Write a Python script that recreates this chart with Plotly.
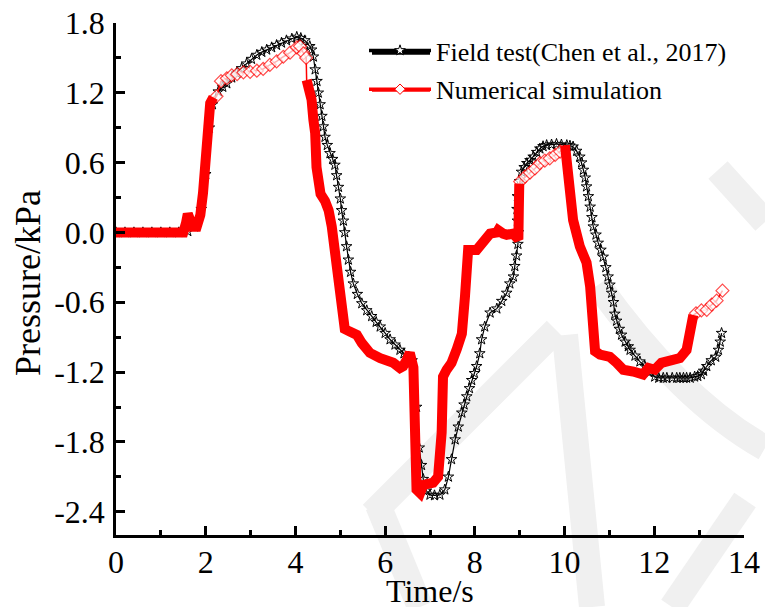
import plotly.graph_objects as go

# ---------------- data ----------------
field_t = [0.0, 0.2, 0.4, 0.6, 0.8, 1.0, 1.2, 1.4, 1.6, 1.75, 1.9, 2.0, 2.08, 2.15,
           2.28, 2.38, 2.47, 2.58, 2.69, 2.8, 2.91, 3.02, 3.14, 3.25, 3.36, 3.47, 3.58,
           3.69, 3.8, 3.92, 4.03, 4.12, 4.21, 4.32, 4.36, 4.4, 4.44, 4.48, 4.51, 4.55,
           4.59, 4.62, 4.66, 4.71, 4.77, 4.83, 4.88, 4.92, 4.96, 5.0, 5.03, 5.07, 5.1,
           5.14, 5.18, 5.23, 5.29, 5.38, 5.48, 5.59, 5.7, 5.8, 5.89, 6.0, 6.11, 6.22,
           6.33, 6.42, 6.52, 6.6, 6.7, 6.76, 6.81, 6.85, 6.92, 7.0, 7.1, 7.22, 7.33,
           7.41, 7.48, 7.56, 7.63, 7.71, 7.76, 7.82, 7.88, 7.93, 7.99, 8.04, 8.11, 8.15,
           8.22, 8.34, 8.49, 8.6, 8.71, 8.78, 8.86, 8.89, 8.93, 8.96, 8.97, 8.95, 8.94,
           8.95, 9.0, 9.04, 9.1, 9.16, 9.23, 9.3, 9.38, 9.45, 9.52, 9.6, 9.71, 9.82,
           9.93, 10.05, 10.12, 10.19, 10.27, 10.34, 10.38, 10.42, 10.46, 10.49, 10.53,
           10.57, 10.61, 10.64, 10.7, 10.75, 10.81, 10.86, 10.92, 10.97, 11.01, 11.05,
           11.09, 11.12, 11.16, 11.22, 11.27, 11.35, 11.42, 11.46, 11.57, 11.68, 11.79,
           11.9, 12.01, 12.1, 12.2, 12.28, 12.4, 12.5, 12.57, 12.65, 12.72, 12.8, 12.9,
           12.97, 13.05, 13.1, 13.17, 13.27, 13.37, 13.43, 13.47, 13.5]
field_v = [0.0, 0.0, 0.0, 0.0, 0.0, 0.0, 0.0, 0.0, 0.01, 0.05, 0.2, 0.5, 0.9, 1.1,
           1.21, 1.25, 1.28, 1.33, 1.37, 1.41, 1.45, 1.49, 1.525, 1.55, 1.57, 1.59, 1.61,
           1.63, 1.65, 1.665, 1.68, 1.67, 1.65, 1.6, 1.57, 1.51, 1.4, 1.3, 1.2, 1.1,
           1.0, 0.91, 0.82, 0.75, 0.68, 0.63, 0.58, 0.49, 0.39, 0.29, 0.19, 0.1, 0.0,
           -0.12, -0.235, -0.34, -0.44, -0.53, -0.61, -0.67, -0.72, -0.77, -0.81, -0.865,
           -0.92, -0.965, -1.01, -1.04, -1.07, -1.1, -1.5, -1.85, -2.0, -2.12, -2.22,
           -2.255, -2.26, -2.255, -2.21, -2.1, -1.95, -1.78, -1.67, -1.55, -1.48, -1.41,
           -1.34, -1.27, -1.21, -1.15, -1.04, -0.92, -0.81, -0.69, -0.655, -0.59, -0.52,
           -0.44, -0.38, -0.29, -0.2, -0.1, 0.0, 0.1, 0.2, 0.31, 0.44, 0.52, 0.56, 0.595,
           0.62, 0.65, 0.69, 0.72, 0.74, 0.75, 0.755, 0.76, 0.755, 0.75, 0.745, 0.737,
           0.7, 0.65, 0.6, 0.537, 0.47, 0.394, 0.31, 0.22, 0.13, 0.05, -0.02, -0.09,
           -0.15, -0.21, -0.3, -0.38, -0.45, -0.52, -0.6, -0.7, -0.76, -0.83, -0.88,
           -0.94, -0.98, -1.01, -1.06, -1.11, -1.15, -1.2, -1.24, -1.25, -1.25, -1.25,
           -1.25, -1.25, -1.25, -1.25, -1.25, -1.25, -1.24, -1.235, -1.22, -1.19, -1.15,
           -1.1, -1.07, -1.01, -0.94, -0.865]

sim_t = [0.0, 1.5, 1.56, 1.6, 1.64, 1.68, 1.8, 1.88, 1.94, 1.99, 2.03, 2.1, 2.17,
         2.24, 2.34, 2.47, 2.58, 2.7, 2.84, 2.99, 3.14, 3.28, 3.43, 3.58, 3.73, 3.88,
         4.03, 4.1, 4.18, 4.24,
         4.25, 4.36, 4.4, 4.44, 4.47, 4.51, 4.56, 4.66, 4.74, 4.81, 4.88, 4.96, 5.03,
         5.1, 5.2, 5.37, 5.48, 5.57, 5.66, 5.89, 6.18, 6.33, 6.4, 6.48, 6.55, 6.63,
         6.67, 6.7, 6.78, 6.85, 7.07, 7.18, 7.26, 7.29, 7.37, 7.48, 7.6, 7.71, 7.78,
         7.82, 7.85, 8.04, 8.18, 8.34, 8.49, 8.52, 8.63, 8.71, 8.85, 8.93, 8.97, 8.98,
         8.99,
         9.01, 9.12, 9.23, 9.34, 9.45, 9.56, 9.67, 9.79, 9.9,
         10.01, 10.08, 10.19, 10.34, 10.49, 10.57, 10.64, 10.68, 10.79, 11.01, 11.16,
         11.31, 11.53, 11.75, 11.87, 12.01, 12.16, 12.35, 12.57, 12.72, 12.8, 12.87,
         12.93, 13.05, 13.17, 13.28, 13.39, 13.52]
sim_v = [0.0, 0.0, 0.08, 0.16, 0.12, 0.05, 0.05, 0.15, 0.34, 0.6, 0.855, 1.11, 1.16,
         1.17, 1.3, 1.325, 1.35, 1.36, 1.376, 1.38, 1.39, 1.405, 1.44, 1.47, 1.51, 1.545,
         1.59, 1.6, 1.54, 1.5,
         1.31, 1.14, 0.97, 0.855, 0.56, 0.4, 0.33, 0.27, 0.19, 0.05, -0.18, -0.47, -0.75,
         -0.83, -0.85, -0.88, -0.95, -1.0, -1.035, -1.08, -1.12, -1.165, -1.15, -1.095,
         -1.035, -1.16, -1.72, -2.21, -2.24, -2.17, -2.15, -2.1, -1.72, -1.24, -1.18,
         -1.12, -1.0, -0.87, -0.55, -0.29, -0.15, -0.15, -0.09, -0.01, 0.0, 0.02, -0.01,
         -0.02, -0.01, -0.04, -0.06, 0.2, 0.42,
         0.437, 0.48, 0.514, 0.55, 0.595, 0.617, 0.637, 0.666, 0.695,
         0.75, 0.537, 0.107, -0.12, -0.26, -0.465, -0.75, -1.02, -1.05, -1.07, -1.12,
         -1.18, -1.195, -1.22, -1.165, -1.18, -1.12, -1.095, -1.08, -1.01, -0.865, -0.71,
         -0.695, -0.67, -0.666, -0.62, -0.586, -0.5]

x_ticks = [0, 2, 4, 6, 8, 10, 12, 14]
y_ticks = [1.8, 1.2, 0.6, 0.0, -0.6, -1.2, -1.8, -2.4]
y_tick_text = ["1.8", "1.2", "0.6", "0.0", "-0.6", "-1.2", "-1.8", "-2.4"]
series_names = ["Field test(Chen et al., 2017)", "Numerical simulation"]
x_title = "Time/s"
y_title = "Pressure/kPa"

# ---------------- style / layout ----------------
FONT = "Liberation Serif, Times New Roman, serif"
RED = "#ff0000"
W, H = 765, 607
ML, MR, MT, MB = 116, 21, 23, 72
PW, PH = W - ML - MR, H - MT - MB
DIAMOND_WINDOWS = [(2.2, 4.245), (9.0, 9.95), (12.9, 13.6)]


def px(x):
    return (x - ML) / PW


def py(y):
    return (H - MB - y) / PH


def in_windows(t):
    return any(a <= t <= b for a, b in DIAMOND_WINDOWS)


band_v = [None if in_windows(t) else v for t, v in zip(sim_t, sim_v)]
diamond_size = [10 if in_windows(t) else 0 for t in sim_t]

fig = go.Figure()

# field test
fig.add_trace(go.Scatter(
    x=field_t, y=field_v, mode="lines+markers", showlegend=False,
    line=dict(color="black", width=1.2),
    marker=dict(symbol="star-open", size=8, color="black", line=dict(width=1))))

# numerical simulation: thin connecting line + dense band + sparse diamonds
fig.add_trace(go.Scatter(
    x=sim_t, y=sim_v, mode="lines+markers", showlegend=False,
    line=dict(color=RED, width=1.5),
    marker=dict(symbol="diamond", size=diamond_size, color="white",
                line=dict(color=RED, width=1.2))))
fig.add_trace(go.Scatter(
    x=sim_t, y=band_v, mode="lines", showlegend=False, connectgaps=False,
    line=dict(color=RED, width=10)))

# legend entries
fig.add_trace(go.Scatter(
    x=[None], y=[None], mode="lines+markers", name=series_names[0], legendgroup="a",
    line=dict(color="black", width=3.5),
    marker=dict(symbol="star", size=8, color="white", line=dict(color="black", width=1))))
fig.add_trace(go.Scatter(
    x=[None], y=[None], mode="lines+markers", name=series_names[1], legendgroup="b",
    line=dict(color=RED, width=3.5),
    marker=dict(symbol="diamond", size=8, color="white", line=dict(color=RED, width=1))))

# faint background watermark strokes
wm = "#f0f0f0"
shapes = []
for (x0, y0, x1, y1) in [(556, 330, 372, 514), (378, 505, 420, 607), (565, 335, 592, 607),
                         (745, 500, 672, 607), (718, 170, 765, 222)]:
    shapes.append(dict(type="line", xref="paper", yref="paper", layer="below",
                       x0=px(x0), y0=py(y0), x1=px(x1), y1=py(y1),
                       line=dict(color=wm, width=26)))
shapes.append(dict(type="path", xref="paper", yref="paper", layer="below",
                   path=f"M {px(598)},{py(285)} Q {px(680)},{py(400)} {px(765)},{py(448)}",
                   line=dict(color=wm, width=26)))
# longer legend line samples
for yy, col in [(53, "black"), (90, RED)]:
    shapes.append(dict(type="line", xref="paper", yref="paper", layer="above",
                       x0=px(372), x1=px(430), y0=py(yy), y1=py(yy),
                       line=dict(color=col, width=3.5)))

axis_common = dict(
    showline=True, linecolor="black", linewidth=2.5, mirror=False,
    showgrid=False, zeroline=False, automargin=False,
    ticks="inside", tickcolor="black", tickwidth=2.5, ticklen=9,
    tickfont=dict(family=FONT, size=32, color="black"),
)

fig.update_layout(
    width=W, height=H,
    margin=dict(l=ML, r=MR, t=MT, b=MB, autoexpand=False),
    paper_bgcolor="white", plot_bgcolor="rgba(0,0,0,0)",
    font=dict(family=FONT, color="black"),
    xaxis=dict(range=[0, 14], tickvals=x_ticks, ticktext=[str(v) for v in x_ticks],
               minor=dict(ticks="inside", dtick=1, tick0=0, ticklen=5,
                          tickwidth=2.5, tickcolor="black"),
               ticklabelstandoff=-3, **axis_common),
    yaxis=dict(range=[-2.6, 1.8], tickvals=y_ticks, ticktext=y_tick_text,
               minor=dict(ticks="inside", dtick=0.3, tick0=0, ticklen=5,
                          tickwidth=2.5, tickcolor="black"),
               ticklabelstandoff=2, **axis_common),
    legend=dict(x=px(364), y=py(27), xanchor="left", yanchor="top",
                bgcolor="rgba(0,0,0,0)", font=dict(family=FONT, size=26),
                itemwidth=62, tracegroupgap=2),
    shapes=shapes,
    annotations=[
        dict(text=x_title, xref="paper", yref="paper", x=0.5, y=py(591),
             xanchor="center", yanchor="middle", showarrow=False,
             font=dict(family=FONT, size=32, color="black")),
        dict(text=y_title, xref="paper", yref="paper", x=px(28), y=py(283),
             xanchor="center", yanchor="middle", showarrow=False, textangle=-90,
             font=dict(family=FONT, size=36, color="black")),
    ],
)

fig.write_html("out.html",
               config={"displayModeBar": False},
               post_script="document.body.style.margin='0px';"
                           "document.body.style.overflow='hidden';")
